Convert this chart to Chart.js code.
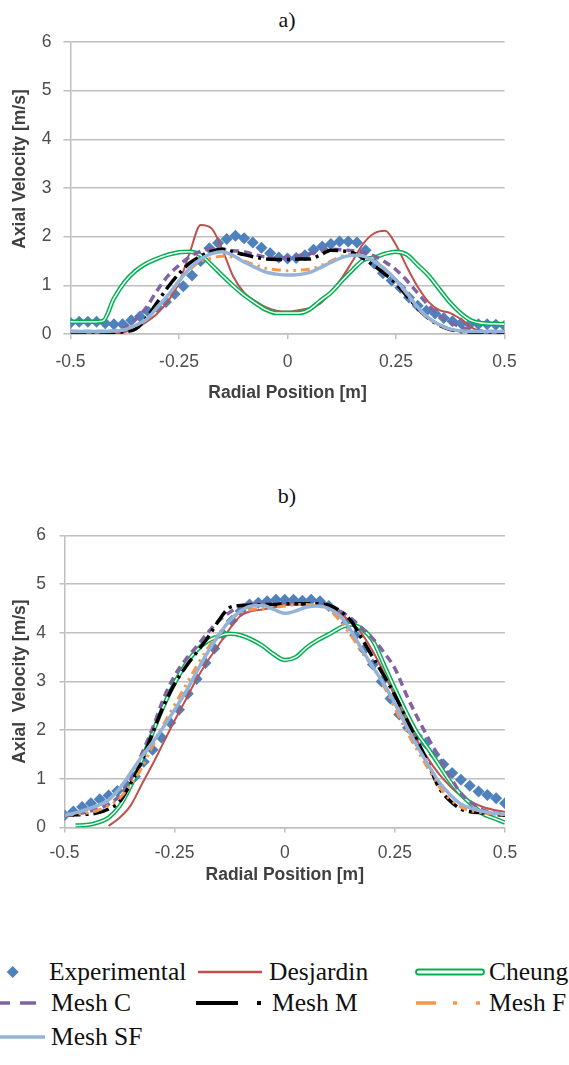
<!DOCTYPE html>
<html>
<head>
<meta charset="utf-8">
<title>Axial Velocity Profiles</title>
<script src="https://cdn.jsdelivr.net/npm/chart.js"></script>
<style>
  body { margin: 0; background: #fff; }
  #page { position: relative; width: 569px; height: 1065px; overflow: hidden; font-family: "Liberation Serif", "Times New Roman", serif; }
  canvas { position: absolute; left: 0; }
  .panel-label { position: absolute; left: 0; width: 574px; text-align: center; font-size: 22px; line-height: 28px; color: #111; }
  .lg-text { position: absolute; font-size: 25.5px; line-height: 28px; color: #111; white-space: nowrap; }
  #legendKeys { position: absolute; left: 0; top: 950px; }
</style>
</head>
<body>
<div id="page">
  <div class="panel-label" style="top:6px;">a)</div>
  <canvas id="chartA" width="569" height="410" style="top:0px;"></canvas>

  <div class="panel-label" style="top:482px;">b)</div>
  <canvas id="chartB" width="569" height="420" style="top:470px;"></canvas>

  <svg id="legendKeys" width="569" height="110">
    <polygon points="12.7,16 18.7,22 12.7,28 6.7,22" fill="#4F81BD"/>
    <line x1="198" y1="22" x2="262" y2="22" stroke="#C0504D" stroke-width="2.5"/>
    <rect x="416" y="19.5" width="68" height="5" rx="2.5" fill="#fff" stroke="#00B050" stroke-width="1.8"/>
    <line x1="0" y1="53" x2="36" y2="53" stroke="#8064A2" stroke-width="3.5" stroke-dasharray="10 10 16"/>
    <line x1="196" y1="53" x2="238" y2="53" stroke="#000" stroke-width="4"/>
    <line x1="257" y1="53" x2="261" y2="53" stroke="#000" stroke-width="4"/>
    <line x1="416" y1="53" x2="436" y2="53" stroke="#F79646" stroke-width="3.5"/>
    <line x1="453" y1="53" x2="457" y2="53" stroke="#F79646" stroke-width="3.5"/>
    <line x1="476" y1="53" x2="480" y2="53" stroke="#F79646" stroke-width="3.5"/>
    <line x1="0" y1="87" x2="45" y2="87" stroke="#95B3D7" stroke-width="3.5"/>
  </svg>
  <div class="lg-text" style="left:49px; top:958px;">Experimental</div>
  <div class="lg-text" style="left:269px; top:958px;">Desjardin</div>
  <div class="lg-text" style="left:489px; top:958px;">Cheung</div>
  <div class="lg-text" style="left:51px; top:989px;">Mesh C</div>
  <div class="lg-text" style="left:272px; top:989px;">Mesh M</div>
  <div class="lg-text" style="left:489px; top:989px;">Mesh F</div>
  <div class="lg-text" style="left:51px; top:1023px;">Mesh SF</div>
</div>

<script>
// radial positions [m] used by the simulation curves
var radialGrid = [-0.5, -0.475, -0.45, -0.425, -0.4, -0.375, -0.35, -0.325, -0.3, -0.275,
                  -0.25, -0.225, -0.2, -0.175, -0.15, -0.125, -0.1, -0.075, -0.05, -0.025,
                  0, 0.025, 0.05, 0.075, 0.1, 0.125, 0.15, 0.175, 0.2, 0.225,
                  0.25, 0.275, 0.3, 0.325, 0.35, 0.375, 0.4, 0.425, 0.45, 0.475, 0.5];
// radial positions [m] of the measurements
var expGrid = [-0.5, -0.48, -0.46, -0.44, -0.42, -0.4, -0.38, -0.36, -0.34, -0.32,
               -0.3, -0.28, -0.26, -0.24, -0.22, -0.2, -0.18, -0.16, -0.14, -0.12,
               -0.1, -0.08, -0.06, -0.04, -0.02, 0, 0.02, 0.04, 0.06, 0.08,
               0.1, 0.12, 0.14, 0.16, 0.18, 0.2, 0.22, 0.24, 0.26, 0.28,
               0.3, 0.32, 0.34, 0.36, 0.38, 0.4, 0.42, 0.44, 0.46, 0.48, 0.5];
var xTicks = [-0.5, -0.25, 0, 0.25, 0.5];
var yTicks = [0, 1, 2, 3, 4, 5, 6];

// ---- panel a) ----
var expA = [0.23, 0.25, 0.25, 0.25, 0.22, 0.2, 0.2, 0.28, 0.36, 0.45,
            0.55, 0.66, 0.82, 0.98, 1.2, 1.5, 1.76, 1.87, 1.95, 2.02,
            1.97, 1.88, 1.77, 1.66, 1.57, 1.55, 1.56, 1.62, 1.73, 1.8,
            1.85, 1.9, 1.9, 1.88, 1.72, 1.45, 1.25, 1.1, 0.95, 0.75,
            0.58, 0.48, 0.42, 0.33, 0.26, 0.22, 0.2, 0.2, 0.2, 0.19, 0.17];
var desjardinA = [0, 0, 0, 0, 0.01, 0.04, 0.12, 0.25, 0.42, 0.68,
                  1.05, 1.68, 2.24, 2.17, 1.73, 1.18, 0.85, 0.68, 0.55, 0.48,
                  0.46, 0.49, 0.53, 0.62, 0.87, 1.15, 1.5, 1.86, 2.07, 2.12,
                  1.83, 1.38, 0.97, 0.66, 0.49, 0.43, 0.3, 0.13, 0.03, 0.01, 0];
var cheungA = [0.25, 0.25, 0.25, 0.27, 0.73, 1.07, 1.3, 1.45, 1.55, 1.63,
               1.68, 1.69, 1.62, 1.42, 1.2, 0.99, 0.8, 0.64, 0.5, 0.43,
               0.43, 0.43, 0.5, 0.68, 0.85, 1.09, 1.32, 1.52, 1.57, 1.65,
               1.69, 1.63, 1.42, 1.2, 0.92, 0.64, 0.42, 0.27, 0.22, 0.21, 0.2];
var meshCA = [0.05, 0.05, 0.05, 0.05, 0.06, 0.13, 0.3, 0.55, 0.9, 1.2,
              1.41, 1.59, 1.7, 1.75, 1.74, 1.71, 1.69, 1.63, 1.58, 1.55,
              1.57, 1.61, 1.65, 1.7, 1.74, 1.73, 1.71, 1.67, 1.6, 1.48,
              1.32, 1.1, 0.84, 0.59, 0.38, 0.24, 0.14, 0.08, 0.06, 0.05, 0.05];
var meshMA = [0, 0, 0, 0.01, 0.02, 0.05, 0.1, 0.33, 0.65, 0.97,
              1.24, 1.46, 1.6, 1.7, 1.74, 1.69, 1.63, 1.58, 1.54, 1.53,
              1.53, 1.54, 1.54, 1.62, 1.72, 1.71, 1.67, 1.55, 1.4, 1.23,
              1.04, 0.78, 0.53, 0.32, 0.18, 0.09, 0.05, 0.02, 0.01, 0.01, 0.01];
var meshFA = [0.05, 0.05, 0.05, 0.05, 0.06, 0.09, 0.18, 0.31, 0.55, 0.8,
              1.08, 1.32, 1.5, 1.56, 1.6, 1.58, 1.5, 1.42, 1.35, 1.32,
              1.3, 1.31, 1.33, 1.4, 1.5, 1.6, 1.64, 1.6, 1.5, 1.32,
              1.1, 0.82, 0.54, 0.32, 0.18, 0.1, 0.06, 0.05, 0.05, 0.05, 0.05];
var meshSFA = [0.05, 0.05, 0.05, 0.05, 0.06, 0.09, 0.18, 0.3, 0.55, 0.8,
               1.09, 1.35, 1.54, 1.65, 1.69, 1.61, 1.48, 1.37, 1.27, 1.23,
               1.21, 1.22, 1.26, 1.36, 1.47, 1.57, 1.62, 1.6, 1.49, 1.33,
               1.11, 0.84, 0.55, 0.33, 0.19, 0.1, 0.06, 0.05, 0.05, 0.05, 0.05];

// ---- panel b) ----
var expB = [0.25, 0.33, 0.42, 0.5, 0.58, 0.66, 0.75, 0.88, 1.05, 1.35,
            1.6, 1.85, 2.15, 2.42, 2.75, 3.05, 3.38, 3.68, 3.97, 4.25,
            4.45, 4.58, 4.62, 4.65, 4.68, 4.68, 4.68, 4.66, 4.68, 4.65,
            4.55, 4.4, 4.2, 3.95, 3.65, 3.35, 3.0, 2.65, 2.32, 2.05,
            1.88, 1.73, 1.5, 1.3, 1.12, 0.98, 0.86, 0.74, 0.67, 0.6, 0.5];
var desjardinB = [null, null, null, null, 0.03, 0.2, 0.45, 0.88, 1.3, 1.75,
                  2.2, 2.62, 3.05, 3.42, 3.75, 4.08, 4.35, 4.45, 4.48, 4.52,
                  4.57, 4.58, 4.57, 4.55, 4.52, 4.4, 4.22, 3.98, 3.62, 3.18,
                  2.7, 2.22, 1.8, 1.42, 1.1, 0.85, 0.65, 0.52, 0.42, 0.36, 0.32];
var cheungB = [null, 0.04, 0.05, 0.1, 0.2, 0.44, 0.85, 1.38, 1.95, 2.5,
               2.97, 3.35, 3.64, 3.83, 3.93, 3.98, 3.95, 3.86, 3.73, 3.56,
               3.44, 3.5, 3.7, 3.85, 3.97, 4.1, 4.17, 4.08, 3.84, 3.35,
               2.85, 2.38, 1.95, 1.63, 1.29, 0.95, 0.68, 0.47, 0.28, 0.19, 0.1];
var meshCB = [0.25, 0.28, 0.32, 0.38, 0.48, 0.65, 0.98, 1.5, 2.04, 2.65,
              3.12, 3.45, 3.72, 4.0, 4.25, 4.42, 4.55, 4.6, 4.6, 4.6,
              4.6, 4.6, 4.6, 4.58, 4.55, 4.45, 4.3, 4.1, 3.88, 3.6,
              3.27, 2.75, 2.28, 1.85, 1.45, 1.05, 0.7, 0.5, 0.36, 0.3, 0.27];
var meshMB = [0.25, 0.26, 0.27, 0.3, 0.38, 0.53, 0.9, 1.35, 1.94, 2.5,
              2.95, 3.3, 3.6, 3.9, 4.25, 4.52, 4.56, 4.57, 4.58, 4.58,
              4.6, 4.6, 4.6, 4.6, 4.57, 4.45, 4.25, 3.88, 3.5, 3.12,
              2.72, 2.25, 1.8, 1.33, 0.82, 0.55, 0.38, 0.32, 0.3, 0.27, 0.25];
var meshFB = [0.25, 0.27, 0.3, 0.35, 0.45, 0.6, 0.88, 1.22, 1.68, 2.12,
              2.52, 2.92, 3.32, 3.68, 3.98, 4.25, 4.42, 4.48, 4.5, 4.52,
              4.55, 4.58, 4.58, 4.55, 4.48, 4.25, 3.95, 3.6, 3.3, 2.9,
              2.45, 2.0, 1.6, 1.22, 0.85, 0.58, 0.42, 0.34, 0.3, 0.27, 0.26];
var meshSFB = [0.25, 0.3, 0.37, 0.45, 0.57, 0.8, 1.12, 1.45, 1.75, 2.07,
               2.42, 2.78, 3.2, 3.6, 3.95, 4.25, 4.45, 4.55, 4.56, 4.48,
               4.4, 4.45, 4.53, 4.55, 4.5, 4.35, 4.05, 3.66, 3.3, 2.95,
               2.55, 2.1, 1.68, 1.3, 0.94, 0.68, 0.48, 0.39, 0.33, 0.29, 0.27];

var sansFont = '"Liberation Sans", Arial, sans-serif';
Chart.defaults.font.family = sansFont;

// rotated y axis title, placed freely (panel a's title sits above the middle)
var yTitlePlugin = {
  id: 'yTitle',
  afterDraw: function(chart, args, opts) {
    var ctx = chart.ctx, area = chart.chartArea;
    ctx.save();
    ctx.translate(opts.x, (area.top + area.bottom) / 2 + opts.shift);
    ctx.rotate(-Math.PI / 2);
    ctx.font = 'bold 17.5px ' + sansFont;
    ctx.fillStyle = '#404040';
    ctx.textAlign = 'center';
    ctx.textBaseline = 'middle';
    ctx.fillText(opts.text, 0, 0);
    ctx.restore();
  }
};

function toPoints(xs, ys) {
  return xs.map(function(x, i) { return { x: x, y: ys[i] }; });
}

function lineSet(label, ys, color, width, dash, order) {
  return {
    label: label,
    data: toPoints(radialGrid, ys),
    borderColor: color,
    borderWidth: width,
    borderDash: dash || [],
    pointRadius: 0,
    cubicInterpolationMode: 'monotone',
    fill: false,
    order: order
  };
}

function buildDatasets(exp, desj, cheung, meshC, meshM, meshF, meshSF) {
  return [
    {
      label: 'Experimental',
      data: toPoints(expGrid, exp),
      showLine: false,
      pointStyle: 'rectRot',
      pointRadius: 6,
      pointBackgroundColor: '#4F81BD',
      pointBorderColor: '#4F81BD',
      pointBorderWidth: 0,
      order: 8
    },
    lineSet('Desjardin', desj, '#C0504D', 2, null, 7),
    lineSet('Cheung', cheung, '#00B050', 4.5, null, 6),
    lineSet('Cheung core', cheung, '#ffffff', 1.5, null, 5.5),
    lineSet('Mesh C', meshC, '#8064A2', 3.5, [8, 5], 5),
    lineSet('Mesh M', meshM, '#000000', 3.5, [16, 5, 3, 5], 4),
    lineSet('Mesh F', meshF, '#F79646', 3, [9, 5, 2.5, 5, 2.5, 5], 3),
    lineSet('Mesh SF', meshSF, '#95B3D7', 3.5, null, 2)
  ];
}

function makeChart(id, datasets, p) {
  var ctx = document.getElementById(id).getContext('2d');
  return new Chart(ctx, {
    type: 'line',
    data: { datasets: datasets },
    plugins: [yTitlePlugin],
    options: {
      responsive: false,
      animation: false,
      layout: { padding: { top: p.top, right: p.right, left: 0, bottom: 0 } },
      plugins: {
        legend: { display: false },
        tooltip: { enabled: false },
        yTitle: { text: p.yTitle, x: 20, shift: p.yShift }
      },
      scales: {
        x: {
          type: 'linear',
          min: -0.5,
          max: 0.5,
          afterBuildTicks: function(scale) {
            scale.ticks = xTicks.map(function(v) { return { value: v }; });
          },
          ticks: {
            padding: p.xTickPad,
            color: '#4d4d4d',
            font: { size: 17.5 },
            maxRotation: 0,
            autoSkip: false,
            callback: function(v) { return String(v); }
          },
          grid: { drawOnChartArea: false, drawTicks: true, tickLength: 5, color: '#bfbfbf', lineWidth: 1.5 },
          border: { display: true, color: '#bfbfbf', width: 1.5 },
          title: {
            display: true,
            text: 'Radial Position [m]',
            color: '#404040',
            font: { size: 17.5, weight: 'bold' },
            padding: { top: 0, bottom: p.xTitlePad }
          },
          afterFit: function(scale) { scale.height = p.xHeight; }
        },
        y: {
          min: 0,
          max: 6,
          afterBuildTicks: function(scale) {
            scale.ticks = yTicks.map(function(v) { return { value: v }; });
          },
          ticks: { padding: p.yTickPad, color: '#4d4d4d', font: { size: 17.5 } },
          grid: { color: '#bfbfbf', lineWidth: 1.5, tickLength: p.yTickLen },
          border: { display: true, color: '#bfbfbf', width: 1.5 },
          afterFit: function(scale) { scale.width = p.yWidth; }
        }
      }
    }
  });
}

makeChart('chartA',
  buildDatasets(expA, desjardinA, cheungA, meshCA, meshMA, meshFA, meshSFA),
  { top: 42, right: 64.5, yWidth: 70.5, yTickLen: 7, yTickPad: 12, xHeight: 76, xTickPad: 12.5,
    xTitlePad: 6.5, yTitle: 'Axial Velocity [m/s]', yShift: -19 });

makeChart('chartB',
  buildDatasets(expB, desjardinB, cheungB, meshCB, meshMB, meshFB, meshSFB),
  { top: 65.5, right: 64, yWidth: 64.5, yTickLen: 5, yTickPad: 13.5, xHeight: 62.5, xTickPad: 10,
    xTitlePad: 4.5, yTitle: 'Axial  Velocity [m/s]', yShift: 0 });
</script>
</body>
</html>
